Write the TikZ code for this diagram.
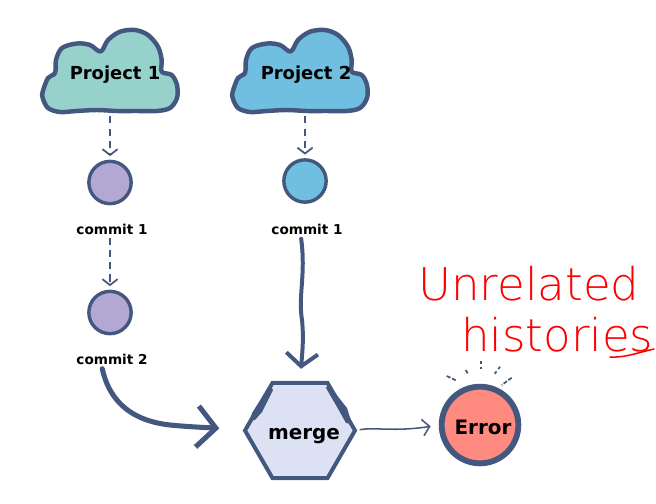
\documentclass[tikz,border=0pt]{standalone}
\usepackage{fontspec}
\setmainfont{DejaVu Sans}
\newfontfamily\handfont{DejaVu Sans ExtraLight}
\usetikzlibrary{arrows.meta,shapes.geometric}
\definecolor{linecol}{HTML}{44587F}
\definecolor{tealfill}{HTML}{96D1CC}
\definecolor{bluefill}{HTML}{70BFE0}
\definecolor{purplefill}{HTML}{B2A8D3}
\definecolor{mergefill}{HTML}{DCE2F3}
\definecolor{errorfill}{HTML}{FF8A80}
\tikzset{
  cloudline/.style={draw=linecol,line width=3.8pt,line join=round},
  cloudlabel/.style={font=\fontsize{15.3}{18}\selectfont\bfseries,minimum height=2.46cm,inner sep=0pt},
  commitnode/.style={circle,draw=linecol,line width=2.9pt,minimum size=1.27cm,inner sep=0pt},
  commitlabel/.style={font=\fontsize{11.6}{14}\selectfont\bfseries,inner sep=0pt,minimum height=0.5cm},
  dashconn/.style={draw=linecol,line width=1.8pt,dash pattern=on 6pt off 4.5pt,-{Straight Barb[length=5pt,width=13pt,line width=1.5pt,sep=0pt]}},
  wideconn/.style={draw=linecol,line width=3.4pt,line cap=round,-{Straight Barb[length=11pt,width=27pt,line width=3.4pt]}},
  widerconn/.style={draw=linecol,line width=4.3pt,line cap=round,-{Straight Barb[length=16pt,width=35pt,line width=4.3pt]}},
  thinconn/.style={draw=linecol,line width=1.3pt,-{Straight Barb[length=6pt,width=14pt,line width=1.3pt]}},
  handtext/.style={text=red,font=\handfont\fontsize{38.5}{42}\selectfont,inner sep=0pt,anchor=base west},
}
\newcommand{\cloudoutline}{plot[smooth cycle,tension=0.55] coordinates {(42.7,91.7) (48,78) (55,73) (56,60) (62,48) (77,43.5) (90,45) (100.7,51.5) (108,40) (120,31.7) (135,30) (148,35) (158,46.7) (161.7,60) (161.7,71.7) (171.7,75) (177,85) (177,98) (170,108) (156.7,111) (136.7,111) (116.7,111) (96.7,110) (76.7,111) (60,112) (48,108) (42.7,98)}}
\begin{document}
\begin{tikzpicture}[x=0.03cm,y=-0.03cm]
\useasboundingbox (0,0) rectangle (656,503);

% clouds
\draw[cloudline,fill=tealfill] \cloudoutline;
\begin{scope}[shift={(190,0)}]
\draw[cloudline,fill=bluefill] \cloudoutline;
\end{scope}
\node[cloudlabel] (proj1) at (115,75) {Project 1};
\node[cloudlabel] (proj2) at (306,75) {Project 2};

% commits
\node[commitnode,fill=purplefill] (c1a) at (110,182.5) {};
\node[commitnode,fill=bluefill] (c1b) at (305,181) {};
\node[commitnode,fill=purplefill] (c2a) at (110,312.5) {};
\node[commitlabel] (lbl1a) at (112,229) {commit 1};
\node[commitlabel] (lbl1b) at (307,229) {commit 1};
\node[commitlabel] (lbl2a) at (112,359) {commit 2};

% merge and error
\node[regular polygon,regular polygon sides=6,draw=linecol,line width=3.4pt,fill=mergefill,minimum size=3.3cm,inner sep=0pt,outer sep=0pt] (merge) at (300,430.5) {};
\fill[linecol] (328,384) -- (347,408) -- (352,424) -- (346,423) -- (337,407) -- (326,388) -- cycle;
\fill[linecol] (270,385) -- (252,413) -- (250,420) -- (255,420) -- (262,412) -- (273,390) -- cycle;
\node[font=\fontsize{17}{20}\selectfont\bfseries,inner sep=0pt] (mergetxt) at (304,436) {merge};
\node[circle,draw=linecol,line width=5pt,fill=errorfill,minimum size=2.3cm,inner sep=0pt] (err) at (480,425) {};
\node[font=\fontsize{17}{20}\selectfont\bfseries,inner sep=0pt] (errtxt) at (483,427) {Error};

% connectors
\draw[dashconn,shorten >=3pt] (proj1.south -| c1a) -- (c1a);
\draw[dashconn,shorten >=3pt] (proj2.south -| c1b) -- (c1b);
\draw[dashconn,shorten >=3pt] (lbl1a.south -| c2a) -- (c2a);
\draw[wideconn,shorten <=1pt,shorten >=12pt] (lbl1b.south -| 301,0) .. controls (306,275) and (298,295) .. (302,320) .. controls (304,340) and (302,355) .. (merge.north);
\draw[widerconn,shorten <=1pt,shorten >=22pt] (lbl2a.south -| 102,0) .. controls (108,395) and (125,420) .. (170,425) .. controls (190,427) and (215,428) .. (merge.west);
\draw[thinconn,shorten <=4pt,shorten >=7pt] (merge.east) .. controls (375,427) and (395,432) .. (err.west);

% ticks over the error
\draw[linecol,line width=1.5pt,dash pattern=on 3.5pt off 1.5pt] (446.7,376) -- (456.7,380.7);
\draw[linecol,line width=1.5pt] (465.7,370) -- (467.7,373.3);
\draw[linecol,line width=1.5pt,dash pattern=on 2.5pt off 2.5pt] (480.7,360.7) -- (480.7,370.7);
\draw[linecol,line width=1.5pt,dash pattern=on 2.5pt off 2.5pt] (500,366.7) -- (494.3,374.3);
\draw[linecol,line width=1.5pt,dash pattern=on 3.5pt off 1.5pt] (511.7,377.7) -- (501.7,385);

% red note
\node[handtext] (note1) at (418,300) {Unrelated};
\node[handtext] (note2) at (461,351) {histories};
\draw[red,line width=1.3pt,line cap=round] (610,357) .. controls (625,358) and (640,352) .. (654,349);
\end{tikzpicture}
\end{document}
